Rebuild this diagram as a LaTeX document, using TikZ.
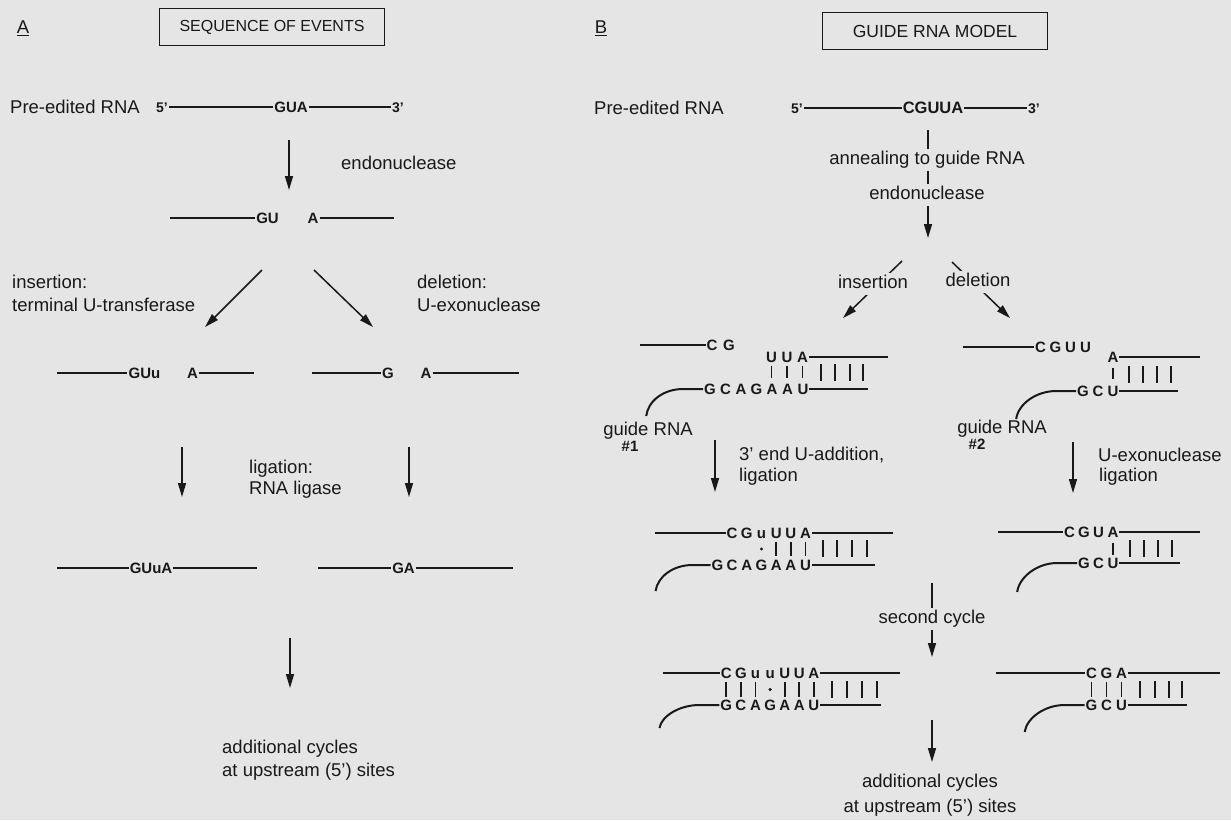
\documentclass[tikz,border=0pt]{standalone}
\usepackage{fontspec}
\setmainfont{Liberation Sans}
\usetikzlibrary{arrows.meta}
\definecolor{bg}{RGB}{229,229,229}
\definecolor{ink}{RGB}{25,25,25}
\begin{document}
\begin{tikzpicture}[x=1pt,y=-1pt,
  lbl/.style={font=\fontsize{18.5}{22}\selectfont, inner sep=1pt, text=ink, text height=13.3pt, text depth=0pt},
  gaplbl/.style={font=\fontsize{18.5}{22}\selectfont, inner sep=2pt, text=ink, fill=bg, text height=13.3pt, text depth=4pt},
  seq/.style={font=\fontsize{15}{18}\selectfont\bfseries, inner sep=1pt, text=ink, text height=10.7pt, text depth=0pt},
  seqB/.style={font=\fontsize{16.5}{19}\selectfont\bfseries, inner sep=1pt, text=ink, text height=11.8pt, text depth=0pt},
  nt/.style={font=\fontsize{15}{18}\selectfont\bfseries, inner sep=0.8pt, text=ink, text height=10.7pt, text depth=0pt},
  primelbl/.style={font=\fontsize{14}{16}\selectfont\bfseries, inner sep=1pt, text=ink, text height=10pt, text depth=0pt},
  numlbl/.style={font=\fontsize{15}{18}\selectfont\bfseries, inner sep=1pt, text=ink, text height=10.7pt, text depth=0pt},
  strand/.style={draw=ink, line width=2pt},
  arr/.style={draw=ink, line width=1.5pt, -{Triangle[length=14pt,width=8pt]}},
  bp/.style={draw=ink, line width=1.7pt},
  titlebox/.style={draw=ink, line width=1.3pt, minimum width=225pt, minimum height=37pt, inner sep=0pt, text=ink}
]
\fill[bg] (0,0) rectangle (1231,820);
\useasboundingbox (0,0) rectangle (1231,820);

% ================= PANEL A =================
\node[lbl] (labA) at (23,27) {\underline{A}};
\node[titlebox, font=\fontsize{16}{19}\selectfont] (titA) at (272,27) {SEQUENCE OF EVENTS};

\node[lbl, anchor=west] (preA) at (9,107) {Pre-edited RNA};
\node[primelbl] (a5) at (162,107) {5'};
\node[seq] (aGUA) at (291,107) {GUA};
\node[primelbl] (a3) at (398,107) {3'};
\draw[strand] (a5.east) -- (aGUA.west);
\draw[strand] (aGUA.east) -- (a3.west);

\coordinate (a1s) at (289,140);
\coordinate (a1e) at (289,190);
\draw[arr] (a1s) -- (a1e);
\node[lbl, anchor=west] (endoA) at (340,163) {endonuclease};

\coordinate (a2l) at (170,218);
\node[seq] (aGU) at (267.5,218) {GU};
\node[seq] (aA2) at (313,218) {A};
\coordinate (a2r) at (394,218);
\draw[strand] (a2l) -- (aGU.west);
\draw[strand] (aA2.east) -- (a2r);

\coordinate (dl1) at (262,270);
\coordinate (dl2) at (205,327);
\coordinate (dr1) at (314,270);
\coordinate (dr2) at (373,327);
\draw[arr] (dl1) -- (dl2);
\draw[arr] (dr1) -- (dr2);
\node[lbl, anchor=west] (insA) at (11,282) {insertion:};
\node[lbl, anchor=west] (ins2A) at (11,305) {terminal U-transferase};
\node[lbl, anchor=west] (delA) at (416,282) {deletion:};
\node[lbl, anchor=west] (del2A) at (416,305) {U-exonuclease};

\coordinate (a3ll) at (57,373);
\node[seq] (aGUu) at (144.5,373) {GUu};
\node[seq] (aA3) at (192.5,373) {A};
\coordinate (a3lr) at (254,373);
\draw[strand] (a3ll) -- (aGUu.west);
\draw[strand] (aA3.east) -- (a3lr);
\coordinate (a3rl) at (312,373);
\node[seq] (aG3) at (388,373) {G};
\node[seq] (aA3r) at (426,373) {A};
\coordinate (a3rr) at (519,373);
\draw[strand] (a3rl) -- (aG3.west);
\draw[strand] (aA3r.east) -- (a3rr);

\coordinate (lal1) at (182,447);
\coordinate (lal2) at (182,497);
\coordinate (lar1) at (409,447);
\coordinate (lar2) at (409,497);
\draw[arr] (lal1) -- (lal2);
\draw[arr] (lar1) -- (lar2);
\node[lbl, anchor=west] (ligA) at (248,467) {ligation:};
\node[lbl, anchor=west] (lig2A) at (248,488) {RNA ligase};

\coordinate (a4ll) at (57,568);
\node[seq] (aGUuA) at (151,568) {GUuA};
\coordinate (a4lr) at (257,568);
\draw[strand] (a4ll) -- (aGUuA.west);
\draw[strand] (aGUuA.east) -- (a4lr);
\coordinate (a4rl) at (318,568);
\node[seq] (aGA) at (403.5,568) {GA};
\coordinate (a4rr) at (513,568);
\draw[strand] (a4rl) -- (aGA.west);
\draw[strand] (aGA.east) -- (a4rr);

\coordinate (af1) at (290,638);
\coordinate (af2) at (290,688);
\draw[arr] (af1) -- (af2);
\node[lbl, anchor=west] (addA) at (221,747) {additional cycles};
\node[lbl, anchor=west] (add2A) at (221,770) {at upstream (5') sites};

% ================= PANEL B =================
\node[lbl] (labB) at (601,27) {\underline{B}};
\node[titlebox, font=\fontsize{17.5}{21}\selectfont] (titB) at (935,31) {GUIDE RNA MODEL};

\node[lbl, anchor=west] (preB) at (593,108) {Pre-edited RNA};
\node[primelbl] (b5) at (797,108) {5'};
\node[seqB] (bCGUUA) at (933,108) {CGUUA};
\node[primelbl] (b3) at (1034,108) {3'};
\draw[strand] (b5.east) -- (bCGUUA.west);
\draw[strand] (bCGUUA.east) -- (b3.west);

\coordinate (b1s) at (928,130);
\coordinate (b1e) at (928,238);
\draw[arr] (b1s) -- (b1e);
\node[gaplbl, anchor=base] (anneal) at (927,164.6) {annealing to guide RNA};
\node[gaplbl, anchor=base] (endoB) at (927,199.6) {endonuclease};

\coordinate (bi1) at (902,261);
\coordinate (bi2) at (843,318);
\draw[arr] (bi1) -- (bi2);
\node[gaplbl, anchor=base] (insB) at (873,288.6) {insertion};
\coordinate (bd1) at (952,262);
\coordinate (bd2) at (1010,318);
\draw[arr] (bd1) -- (bd2);
\node[gaplbl, anchor=base] (delB) at (978,286.6) {deletion};

% --- row 2, insertion (guide RNA #1)
\coordinate (i2a) at (640,345);
\node[nt] (i2c) at (712,345) {C};
\node[nt] (i2g) at (729,345) {G};
\draw[strand] (i2a) -- (i2c.west);
\foreach \l [count=\i] in {U,U,A} \node[nt] (i2u\i) at ({756+15.5*\i},357) {\l};
\coordinate (i2b) at (888,357);
\draw[strand] (i2u3.east) -- (i2b);
\foreach \l [count=\i] in {G,C,A,G,A,A,U} \node[nt] (i2d\i) at ({694.5+15.5*\i},389) {\l};
\coordinate (i2e) at (868,389);
\draw[strand] (i2d7.east) -- (i2e);
\foreach \x in {771.5,787,802.5} \draw[bp] (\x,366) -- (\x,378);
\foreach \x in {821,835,850,863} \draw[bp] (\x,364) -- (\x,381);
\draw[strand] (i2d1.west) -- ++(-20,0) .. controls +(-20,0) and +(2,-15) .. ++(-37,27);
\node[lbl] (g1) at (648,429) {guide RNA};
\node[numlbl] (g1n) at (630,446) {\#1};

\coordinate (bl1) at (715,440);
\coordinate (bl2) at (715,492);
\draw[arr] (bl1) -- (bl2);
\node[lbl, anchor=west] (uadd) at (738,454) {3' end U-addition,};
\node[lbl, anchor=west] (uadd2) at (738,475) {ligation};

% --- row 2, deletion (guide RNA #2)
\coordinate (d2a) at (963,347);
\foreach \l [count=\i] in {C,G,U,U} \node[nt] (d2u\i) at ({1025.5+15*\i},347) {\l};
\draw[strand] (d2a) -- (d2u1.west);
\node[nt] (d2A) at (1113,357) {A};
\coordinate (d2b) at (1200,357);
\draw[strand] (d2A.east) -- (d2b);
\foreach \l [count=\i] in {G,C,U} \node[nt] (d2d\i) at ({1068+15*\i},391) {\l};
\coordinate (d2e) at (1178,391);
\draw[strand] (d2d3.east) -- (d2e);
\draw[bp] (1113,368) -- (1113,379);
\foreach \x in {1129,1143,1157,1171} \draw[bp] (\x,366) -- (\x,383);
\draw[strand] (d2d1.west) -- ++(-20,0) .. controls +(-20,0) and +(2,-15) .. ++(-40,28);
\node[lbl] (g2) at (1002,427) {guide RNA};
\node[numlbl] (g2n) at (977,444) {\#2};

\coordinate (br1) at (1073,442);
\coordinate (br2) at (1073,493);
\draw[arr] (br1) -- (br2);
\node[lbl, anchor=west] (uexo) at (1097,455) {U-exonuclease};
\node[lbl, anchor=west] (uexo2) at (1098,475) {ligation};

% --- row 3, insertion
\foreach \l [count=\i] in {G,C,A,G,A,A,U} \node[nt] (i3d\i) at ({702.7+14.7*\i},565) {\l};
\foreach \l [count=\i] in {C,G,u,U,U,A} \node[nt] (i3u\i) at ({717.4+14.7*\i},533) {\l};
\coordinate (i3a) at (655,533);
\coordinate (i3b) at (893,533);
\coordinate (i3e) at (875,565);
\draw[strand] (i3a) -- (i3u1.west);
\draw[strand] (i3u6.east) -- (i3b);
\draw[strand] (i3d7.east) -- (i3e);
\fill[ink] (761.5,549) circle[radius=1.7pt];
\foreach \x in {776.2,790.9,805.6} \draw[bp] (\x,542) -- (\x,556);
\foreach \x in {823,837,852,867} \draw[bp] (\x,540) -- (\x,557);
\draw[strand] (i3d1.west) -- ++(-18,0) .. controls +(-20,0) and +(2,-14) .. ++(-37,26);

% --- row 3, deletion
\foreach \l [count=\i] in {C,G,U,A} \node[nt] (d3u\i) at ({1055+14.5*\i},532) {\l};
\foreach \l [count=\i] in {G,C,U} \node[nt] (d3d\i) at ({1069.5+14.5*\i},563) {\l};
\coordinate (d3a) at (998,532);
\coordinate (d3b) at (1200,532);
\coordinate (d3e) at (1180,563);
\draw[strand] (d3a) -- (d3u1.west);
\draw[strand] (d3u4.east) -- (d3b);
\draw[strand] (d3d3.east) -- (d3e);
\draw[bp] (1113,543) -- (1113,555);
\foreach \x in {1130,1144,1158,1172} \draw[bp] (\x,540) -- (\x,557);
\draw[strand] (d3d1.west) -- ++(-20,0) .. controls +(-20,0) and +(2,-15) .. ++(-40,29);

% --- second cycle
\coordinate (bc1) at (932,583);
\coordinate (bc2) at (932,657);
\draw[arr] (bc1) -- (bc2);
\node[gaplbl, anchor=base] (cyc2) at (932,623.6) {second cycle};

% --- row 4, insertion
\foreach \l [count=\i] in {C,G,u,u,U,U,A} \node[nt] (i4u\i) at ({711.7+14.6*\i},673) {\l};
\foreach \l [count=\i] in {G,C,A,G,A,A,U} \node[nt] (i4d\i) at ({711.7+14.6*\i},705) {\l};
\coordinate (i4a) at (663,673);
\coordinate (i4b) at (900,673);
\coordinate (i4e) at (881,705);
\draw[strand] (i4a) -- (i4u1.west);
\draw[strand] (i4u7.east) -- (i4b);
\draw[strand] (i4d7.east) -- (i4e);
\foreach \x in {726.3,740.9,755.5,784.7,799.3,813.9} \draw[bp] (\x,682) -- (\x,697);
\fill[ink] (770.1,689.5) circle[radius=1.7pt];
\foreach \x in {832,847,862,877} \draw[bp] (\x,681) -- (\x,698);
\draw[strand] (i4d1.west) -- ++(-20,0) .. controls +(-20,0) and +(2,-12) .. ++(-40,23);

% --- row 4, deletion
\foreach \l [count=\i] in {C,G,A} \node[nt] (d4u\i) at ({1076.5+15*\i},673) {\l};
\foreach \l [count=\i] in {G,C,U} \node[nt] (d4d\i) at ({1076.5+15*\i},705) {\l};
\coordinate (d4a) at (996,673);
\coordinate (d4b) at (1220,673);
\coordinate (d4e) at (1187,705);
\draw[strand] (d4a) -- (d4u1.west);
\draw[strand] (d4u3.east) -- (d4b);
\draw[strand] (d4d3.east) -- (d4e);
\foreach \x in {1091.5,1106.5,1121.5} \draw[bp] (\x,682) -- (\x,697);
\foreach \x in {1140,1155,1169,1182} \draw[bp] (\x,681) -- (\x,698);
\draw[strand] (d4d1.west) -- ++(-20,0) .. controls +(-20,0) and +(2,-14) .. ++(-40,27);

% --- final
\coordinate (bf1) at (932,720);
\coordinate (bf2) at (932,762);
\draw[arr] (bf1) -- (bf2);
\node[lbl] (addB) at (930,781) {additional cycles};
\node[lbl] (add2B) at (930,806) {at upstream (5') sites};
\end{tikzpicture}
\end{document}
